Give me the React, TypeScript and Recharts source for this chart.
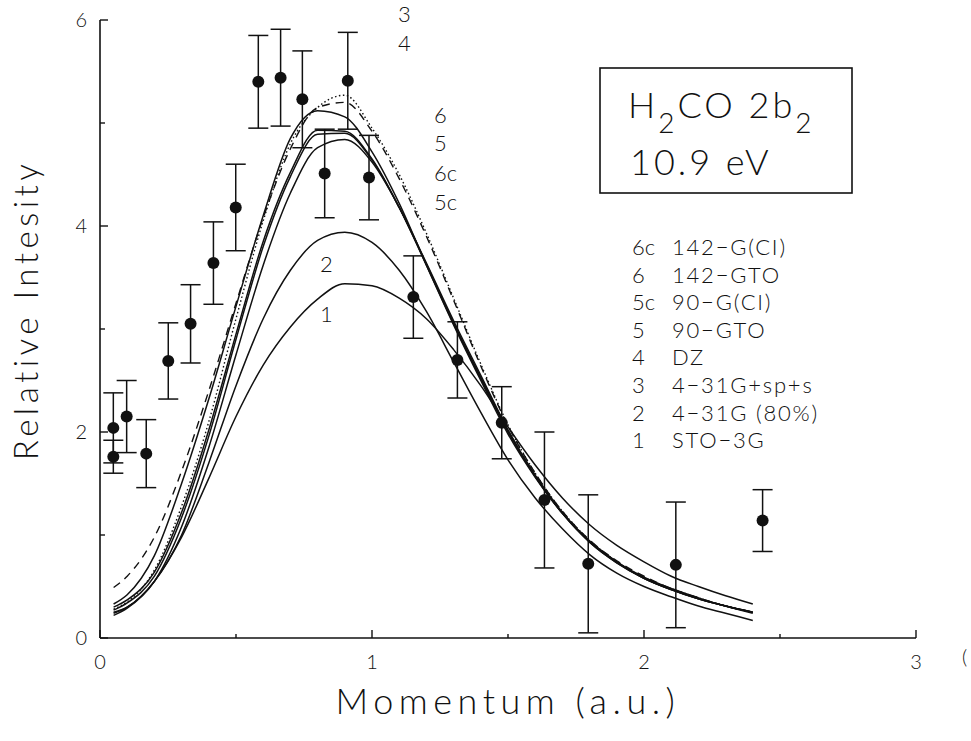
import { ComposedChart, Line, Scatter, ErrorBar, XAxis, YAxis } from 'recharts';

// momentum grid for the theory curves (a.u.)
const momentum = [0.05, 0.1, 0.2, 0.3, 0.4, 0.5, 0.6, 0.7, 0.8, 0.9, 1.0, 1.1, 1.2, 1.3, 1.4, 1.5, 1.6, 1.7, 1.8, 1.9, 2.0, 2.1, 2.2, 2.3, 2.4];

const sto3g = [0.24, 0.30, 0.55, 0.98, 1.55, 2.15, 2.65, 3.02, 3.29, 3.44, 3.42, 3.30, 3.10, 2.80, 2.45, 2.05, 1.68, 1.36, 1.10, 0.90, 0.74, 0.60, 0.50, 0.41, 0.33];
const g431 = [0.25, 0.30, 0.55, 1.00, 1.70, 2.45, 3.10, 3.57, 3.86, 3.94, 3.84, 3.57, 3.17, 2.68, 2.19, 1.73, 1.36, 1.06, 0.81, 0.63, 0.50, 0.40, 0.31, 0.24, 0.17];
const g431sps = [0.28, 0.35, 0.66, 1.28, 2.10, 3.10, 4.05, 4.80, 5.15, 5.27, 4.95, 4.50, 3.93, 3.30, 2.66, 2.07, 1.60, 1.23, 0.95, 0.74, 0.59, 0.48, 0.39, 0.31, 0.25];
const dz = [0.49, 0.60, 0.98, 1.62, 2.40, 3.25, 4.08, 4.75, 5.15, 5.20, 4.92, 4.46, 3.90, 3.28, 2.64, 2.06, 1.60, 1.23, 0.95, 0.75, 0.60, 0.48, 0.39, 0.31, 0.25];
const gto90 = [0.30, 0.37, 0.64, 1.22, 2.02, 2.95, 3.85, 4.52, 4.93, 4.92, 4.65, 4.18, 3.62, 3.05, 2.52, 2.00, 1.57, 1.21, 0.93, 0.73, 0.58, 0.47, 0.38, 0.31, 0.25];
const ci90 = [0.22, 0.29, 0.55, 1.08, 1.85, 2.75, 3.62, 4.32, 4.76, 4.84, 4.62, 4.18, 3.64, 3.08, 2.55, 2.02, 1.58, 1.22, 0.94, 0.74, 0.58, 0.47, 0.38, 0.31, 0.24];
const gto142 = [0.33, 0.42, 0.80, 1.50, 2.32, 3.22, 4.10, 4.85, 5.12, 5.06, 4.72, 4.22, 3.62, 3.04, 2.50, 1.98, 1.56, 1.21, 0.94, 0.74, 0.59, 0.48, 0.39, 0.31, 0.25];
const ci142 = [0.27, 0.34, 0.60, 1.17, 1.96, 2.90, 3.80, 4.48, 4.89, 4.90, 4.64, 4.18, 3.63, 3.06, 2.53, 2.01, 1.57, 1.21, 0.93, 0.73, 0.58, 0.47, 0.38, 0.31, 0.25];

// measured points
const expMomentum = [0.049, 0.049, 0.098, 0.17, 0.251, 0.333, 0.417, 0.499, 0.582, 0.664, 0.744, 0.826, 0.911, 0.989, 1.152, 1.314, 1.477, 1.634, 1.795, 2.117, 2.436];
const expIntensity = [2.04, 1.76, 2.15, 1.79, 2.69, 3.05, 3.64, 4.18, 5.40, 5.44, 5.23, 4.51, 5.41, 4.47, 3.31, 2.70, 2.09, 1.34, 0.72, 0.71, 1.14];
const expError = [0.34, 0.16, 0.35, 0.33, 0.37, 0.38, 0.40, 0.42, 0.45, 0.47, 0.47, 0.43, 0.47, 0.41, 0.40, 0.37, 0.35, 0.66, 0.67, 0.61, 0.30];

const xTicks = [0, 0.5, 1, 1.5, 2, 2.5, 3];
const yTicks = [0, 1, 2, 3, 4, 5, 6];

const legendRows = [
  ['6c', '142\u2212G(CI)'],
  ['6', '142\u2212GTO'],
  ['5c', '90\u2212G(CI)'],
  ['5', '90\u2212GTO'],
  ['4', 'DZ'],
  ['3', '4\u221231G+sp+s'],
  ['2', '4\u221231G (80%)'],
  ['1', 'STO\u22123G'],
];

const curveLabels = [
  { text: '3', x: 398, y: 22 },
  { text: '4', x: 398, y: 51 },
  { text: '6', x: 434, y: 123 },
  { text: '5', x: 434, y: 151 },
  { text: '6c', x: 434, y: 181 },
  { text: '5c', x: 434, y: 210 },
  { text: '2', x: 320, y: 272 },
  { text: '1', x: 320, y: 322 },
];

const table = momentum.map((x, i) => ({
  x,
  c1: sto3g[i],
  c2: g431[i],
  c3: g431sps[i],
  c4: dz[i],
  c5: gto90[i],
  c5c: ci90[i],
  c6: gto142[i],
  c6c: ci142[i],
}));

const points = expMomentum.map((x, i) => ({ x, y: expIntensity[i], err: expError[i] }));

const FONT = 'Lato, "Open Sans", sans-serif';
const INK = '#111';

const BottomTick = ({ x, y, payload }: any) => {
  const major = Number.isInteger(payload.value);
  return (
    <g>
      <line x1={x} x2={x} y1={y} y2={y - (major ? 8 : 4)} stroke={INK} strokeWidth={1.4} />
      {major && (
        <text x={x} y={y + 31} textAnchor="middle" fontSize={20} fontFamily={FONT} fontWeight={300} fill={INK}>
          {payload.value}
        </text>
      )}
    </g>
  );
};

const TopTick = ({ x, y, payload }: any) => {
  const major = Number.isInteger(payload.value);
  return <line x1={x} x2={x} y1={y} y2={y + (major ? 8 : 4)} stroke={INK} strokeWidth={1.4} />;
};

const LeftTick = ({ x, y, payload }: any) => {
  const v = payload.value;
  const major = v % 2 === 0;
  return (
    <g>
      <line x1={x} x2={x + (major ? 8 : 5)} y1={y} y2={y} stroke={INK} strokeWidth={1.4} />
      {major && (
        <text x={x - 13} y={y + 7} textAnchor="end" fontSize={20} fontFamily={FONT} fontWeight={300} fill={INK}>
          {v}
        </text>
      )}
    </g>
  );
};

const RightTick = ({ x, y }: any) => (
  <line x1={x} x2={x - 5} y1={y} y2={y} stroke={INK} strokeWidth={1.4} />
);

const Dot = (props: any) => <circle cx={props.cx} cy={props.cy} r={6} fill={INK} />;

export default function App() {
  return (
    <div style={{ position: 'absolute', left: 0, top: 0, width: 971, height: 741, background: '#fff' }}>
      <ComposedChart width={971} height={741} data={table} margin={{ top: 20, right: 55, left: 0, bottom: 0 }}>
        <XAxis
          xAxisId="b" dataKey="x" type="number" domain={[0, 3]} ticks={xTicks} interval={0}
          height={103} tickSize={0} tickMargin={0} tickLine={false}
          axisLine={{ stroke: INK, strokeWidth: 1.6 }} tick={<BottomTick />} allowDataOverflow
        />
        <XAxis
          xAxisId="t" orientation="top" type="number" domain={[0, 3]} ticks={[0.5, 1, 1.5, 2, 2.5]} interval={0}
          height={0} tickSize={0} tickMargin={0} tickLine={false}
          axisLine={{ stroke: INK, strokeWidth: 1.6 }} tick={<TopTick />}
        />
        <YAxis
          yAxisId="l" type="number" domain={[0, 6]} ticks={yTicks} interval={0}
          width={100} tickSize={0} tickMargin={0} tickLine={false}
          axisLine={{ stroke: INK, strokeWidth: 1.6 }} tick={<LeftTick />} allowDataOverflow
        />
        <YAxis
          yAxisId="r" orientation="right" type="number" domain={[0, 6]} ticks={[1, 2, 3, 4, 5]} interval={0}
          width={0} tickSize={0} tickMargin={0} tickLine={false}
          axisLine={{ stroke: INK, strokeWidth: 1.6 }} tick={<RightTick />}
        />
        <Line xAxisId="b" yAxisId="l" dataKey="c1" type="monotone" stroke={INK} strokeWidth={1.5} dot={false} isAnimationActive={false} />
        <Line xAxisId="b" yAxisId="l" dataKey="c2" type="monotone" stroke={INK} strokeWidth={1.5} dot={false} isAnimationActive={false} />
        <Line xAxisId="b" yAxisId="l" dataKey="c5" type="monotone" stroke={INK} strokeWidth={1.5} dot={false} isAnimationActive={false} />
        <Line xAxisId="b" yAxisId="l" dataKey="c5c" type="monotone" stroke={INK} strokeWidth={1.5} dot={false} isAnimationActive={false} />
        <Line xAxisId="b" yAxisId="l" dataKey="c6" type="monotone" stroke={INK} strokeWidth={1.5} dot={false} isAnimationActive={false} />
        <Line xAxisId="b" yAxisId="l" dataKey="c6c" type="monotone" stroke={INK} strokeWidth={1.5} dot={false} isAnimationActive={false} />
        <Line xAxisId="b" yAxisId="l" dataKey="c3" type="monotone" stroke={INK} strokeWidth={1.4} strokeDasharray="1.5 2.5" dot={false} isAnimationActive={false} />
        <Line xAxisId="b" yAxisId="l" dataKey="c4" type="monotone" stroke={INK} strokeWidth={1.4} strokeDasharray="8 6" dot={false} isAnimationActive={false} />
        <Scatter xAxisId="b" yAxisId="l" data={points} dataKey="y" shape={<Dot />} isAnimationActive={false}>
          <ErrorBar dataKey="err" direction="y" width={10} stroke={INK} strokeWidth={1.5} isAnimationActive={false} />
        </Scatter>
      </ComposedChart>
      <svg width={971} height={741} style={{ position: 'absolute', left: 0, top: 0, pointerEvents: 'none' }}>
        <g fontFamily={FONT} fontWeight={300} fill={INK}>
          <text x={508} y={714} textAnchor="middle" fontSize={36} letterSpacing={5.5}>Momentum (a.u.)</text>
          <text transform="translate(38,310) rotate(-90)" textAnchor="middle" fontSize={33} letterSpacing={4.5}>Relative Intesity</text>
          <text x={962} y={664} fontSize={20}>(</text>
          <rect x={600} y={68} width={252} height={125} fill="none" stroke={INK} strokeWidth={1.6} />
          <text x={628} y={118} fontSize={36} letterSpacing={3}>
            H<tspan dy={15} fontSize={28}>2</tspan><tspan dy={-15}>CO 2b</tspan><tspan dy={15} fontSize={28}>2</tspan>
          </text>
          <text x={630} y={175} fontSize={36} letterSpacing={3}>10.9 eV</text>
          {legendRows.map((r, i) => (
            <g key={r[0]}>
              <text x={632} y={255 + i * 27.6} fontSize={22}>{r[0]}</text>
              <text x={672} y={255 + i * 27.6} fontSize={22} letterSpacing={1.8}>{r[1]}</text>
            </g>
          ))}
          {curveLabels.map((c) => (
            <text key={c.text} x={c.x} y={c.y} fontSize={22}>{c.text}</text>
          ))}
        </g>
      </svg>
    </div>
  );
}
